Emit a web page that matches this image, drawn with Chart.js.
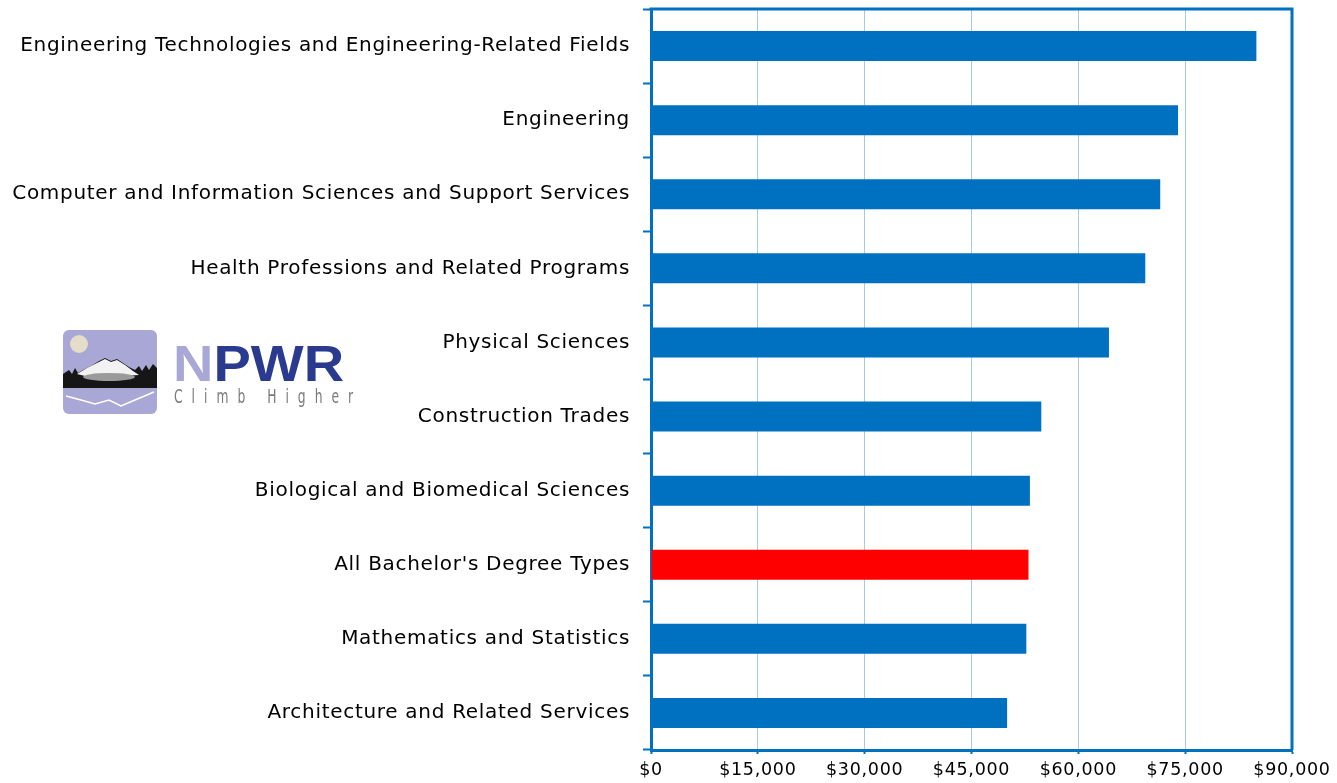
<!DOCTYPE html>
<html>
<head>
<meta charset="utf-8">
<script src="https://cdn.jsdelivr.net/npm/chart.js@4"></script>
<style>
html,body{margin:0;padding:0;background:#fff;}
#wrap{position:relative;width:1337px;height:783px;overflow:hidden;}
#c{position:absolute;left:0;top:0;}
#logoImg{position:absolute;left:63px;top:330px;}
#logoN{position:absolute;left:173px;top:339px;font-family:"Liberation Sans",Arial,sans-serif;font-weight:bold;font-size:50px;line-height:50px;letter-spacing:0px;color:#2a3a8f;transform:scaleX(1.12);transform-origin:left top;}
#logoN span{color:#a9a7d6;}
#logoSub{position:absolute;left:174px;top:386px;font-family:"DejaVu Sans Condensed","DejaVu Sans",sans-serif;font-size:19px;line-height:20px;letter-spacing:12.5px;color:#7a7a7a;transform:scaleX(0.72);transform-origin:left top;white-space:nowrap;}
</style>
</head>
<body>
<div id="wrap">
<canvas id="c" width="1337" height="783"></canvas>
<svg id="logoImg" width="94" height="84" viewBox="0 0 94 84">
  <rect x="0" y="0" width="94" height="84" rx="6" ry="6" fill="#a9a7d6"/>
  <circle cx="16" cy="14" r="9" fill="#e4ddc9"/>
  <path d="M0 44 L6 40 L9 44 L12 38 L15 43 L20 40 L28 36 L36 31 L42 28 L48 31 L54 29 L60 33 L66 37 L72 40 L76 36 L79 41 L83 35 L86 40 L90 34 L94 38 L94 58 L0 58 Z" fill="#161616"/>
  <path d="M14 44 L24 38 L34 33 L42 29 L48 32 L54 30 L62 35 L70 41 L76 45 L60 46 L40 47 L22 46 Z" fill="#f2f2f2"/>
  <ellipse cx="46" cy="47" rx="26" ry="4" fill="#9a9a9a"/>
  <polyline points="3,66 18,70 32,74 46,70 58,76 72,70 91,62" fill="none" stroke="#ffffff" stroke-width="1.5"/>
</svg>
<div id="logoN"><span>N</span>PWR</div>
<div id="logoSub">Climb Higher</div>
</div>
<script>
const categories = [
  "Engineering Technologies and Engineering-Related Fields",
  "Engineering",
  "Computer and Information Sciences and Support Services",
  "Health Professions and Related Programs",
  "Physical Sciences",
  "Construction Trades",
  "Biological and Biomedical Sciences",
  "All Bachelor's Degree Types",
  "Mathematics and Statistics",
  "Architecture and Related Services"
];
const salaries = [85000, 74000, 71500, 69400, 64300, 54800, 53200, 53000, 52700, 50000];
const highlightCategory = "All Bachelor's Degree Types";
const xMin = 0;
const xMax = 90000;
const xStep = 15000;

const BLUE = '#0070c0';
const RED = '#ff0000';
const GRID = '#a8cae6';

const barColors = categories.map(c => c === highlightCategory ? RED : BLUE);

const spacingPlugin = {
  id: 'spacing',
  beforeUpdate(chart) { chart.ctx.letterSpacing = '0.7px'; },
  beforeDraw(chart) { chart.ctx.letterSpacing = '0.7px'; }
};

const framePlugin = {
  id: 'frame',
  afterDatasetsDraw(chart) {
    const {ctx, chartArea: a} = chart;
    ctx.save();
    ctx.strokeStyle = BLUE;
    ctx.lineWidth = 3;
    ctx.beginPath();
    ctx.moveTo(a.left - 1.5, a.top);
    ctx.lineTo(a.right, a.top);
    ctx.lineTo(a.right, a.bottom);
    ctx.stroke();
    ctx.restore();
  }
};

new Chart(document.getElementById('c'), {
  type: 'bar',
  data: {
    labels: categories,
    datasets: [{
      data: salaries,
      backgroundColor: barColors,
      borderWidth: 0,
      barPercentage: 0.405,
      categoryPercentage: 1
    }]
  },
  options: {
    indexAxis: 'y',
    responsive: false,
    animation: false,
    layout: {padding: {left: 10, right: 45, top: 9, bottom: 0}},
    plugins: {legend: {display: false}, tooltip: {enabled: false}},
    scales: {
      x: {
        min: xMin,
        max: xMax,
        ticks: {
          stepSize: xStep,
          color: '#000',
          padding: 6,
          font: {family: '"DejaVu Sans"', size: 17.5},
          callback: v => '$' + Number(v).toLocaleString('en-US')
        },
        grid: {
          color: ctx => (ctx.index === 0 || ctx.tick && ctx.tick.value === xMax) ? 'rgba(0,0,0,0)' : GRID,
          lineWidth: 1,
          tickColor: BLUE,
          tickLength: 4,
          tickWidth: 2
        },
        border: {color: BLUE, width: 3},
        afterFit: s => { s.height = 33; }
      },
      y: {
        ticks: {
          color: '#000',
          padding: 13,
          font: {family: '"DejaVu Sans"', size: 20}
        },
        grid: {
          offset: true,
          drawOnChartArea: false,
          tickColor: BLUE,
          tickLength: 8,
          tickWidth: 2
        },
        border: {color: BLUE, width: 3},
        afterFit: s => { s.width = 641; s.paddingTop = 0; s.paddingBottom = 0; }
      }
    }
  },
  plugins: [spacingPlugin, framePlugin]
});
</script>
</body>
</html>
